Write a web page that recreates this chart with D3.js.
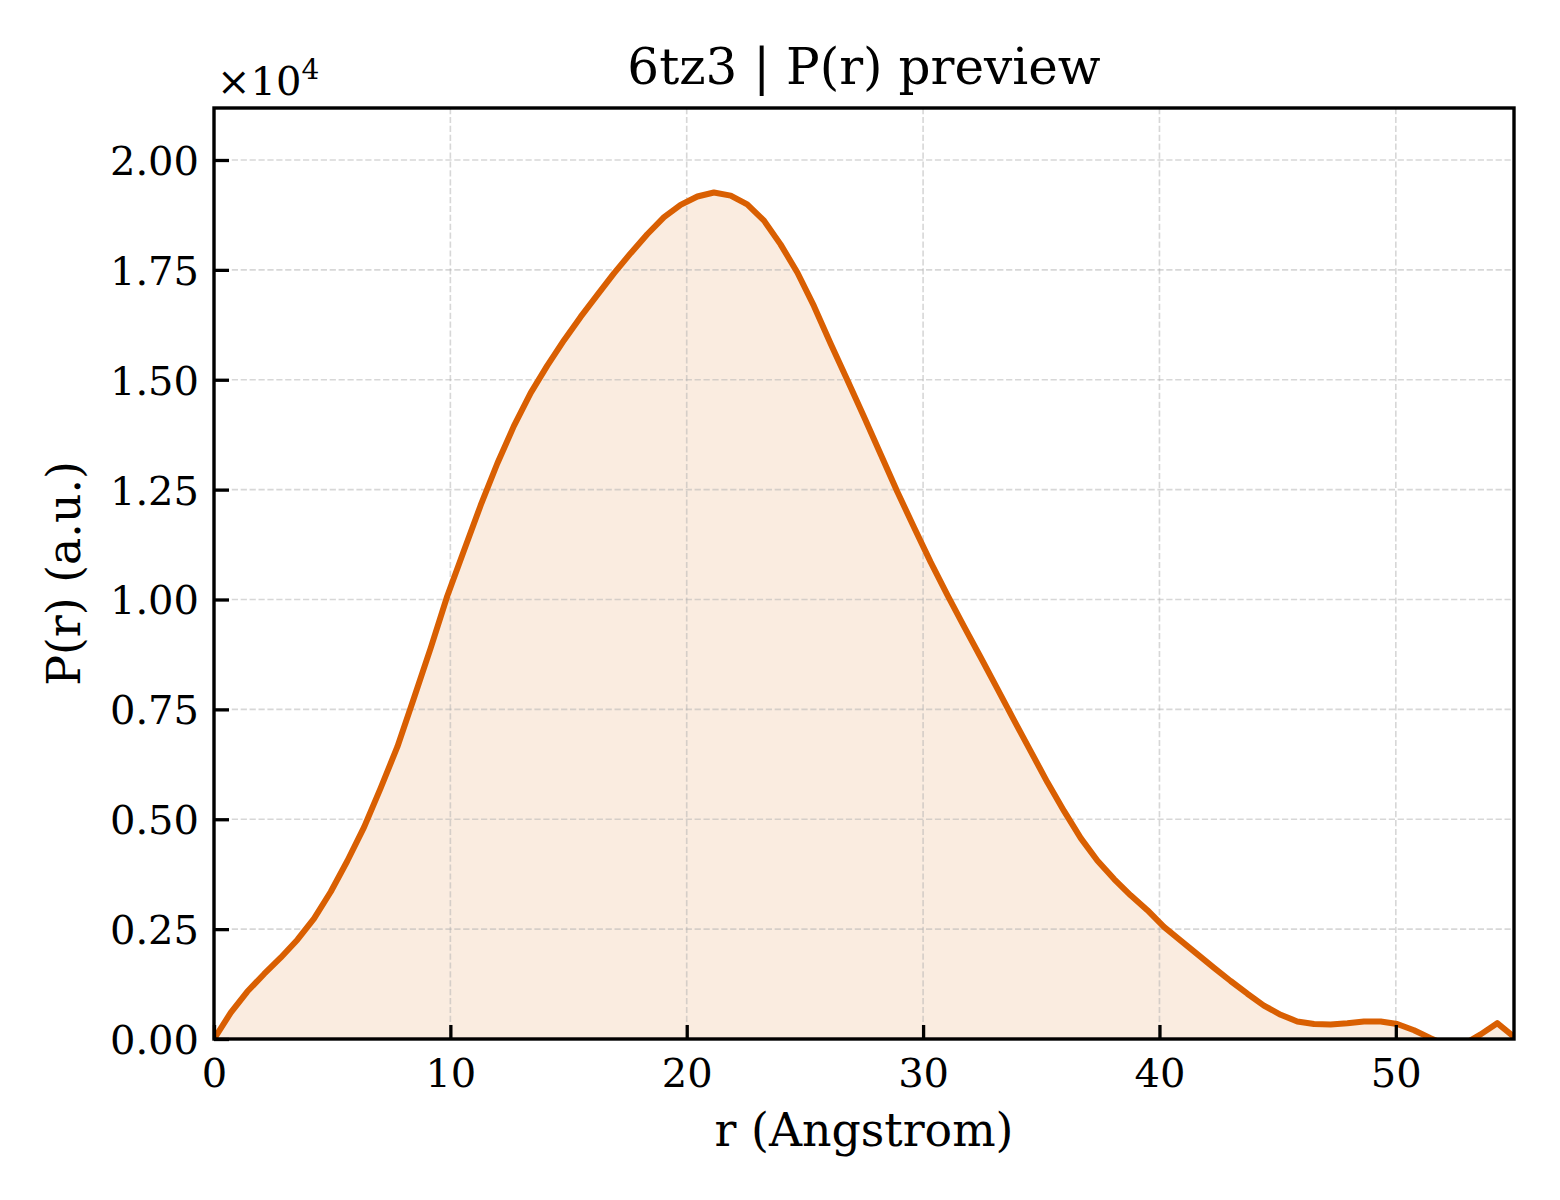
<!DOCTYPE html>
<html>
<head>
<meta charset="utf-8">
<script src="https://cdn.jsdelivr.net/npm/d3@7"></script>
<style>
  html, body { margin: 0; padding: 0; background: #ffffff; }
  svg { display: block; }
  text { font-family: "DejaVu Serif", serif; fill: #000; }
</style>
</head>
<body>
<svg id="chart" width="1560" height="1200"></svg>
<script>
// ---- data ----
const rValues = [0.00, 0.71, 1.41, 2.12, 2.82, 3.53, 4.23, 4.94, 5.64, 6.35,
  7.05, 7.76, 8.46, 9.17, 9.87, 10.58, 11.28, 11.99, 12.69, 13.40,
  14.10, 14.81, 15.51, 16.22, 16.92, 17.63, 18.33, 19.04, 19.74, 20.45,
  21.15, 21.86, 22.56, 23.27, 23.97, 24.68, 25.38, 26.09, 26.79, 27.50,
  28.21, 28.91, 29.62, 30.32, 31.03, 31.73, 32.44, 33.14, 33.85, 34.55,
  35.26, 35.96, 36.67, 37.37, 38.08, 38.78, 39.49, 40.19, 40.90, 41.60,
  42.31, 43.01, 43.72, 44.42, 45.13, 45.83, 46.54, 47.24, 47.95, 48.65,
  49.36, 50.06, 50.77, 51.47, 52.18, 52.88, 53.59, 54.29, 55.00];
const prValues = [0, 600, 1080, 1480, 1850, 2260, 2740, 3350, 4050, 4820,
  5710, 6650, 7760, 8900, 10080, 11120, 12140, 13100, 13950, 14700,
  15320, 15900, 16430, 16930, 17420, 17880, 18310, 18700, 18980, 19170,
  19260, 19190, 18990, 18620, 18080, 17440, 16680, 15820, 15000, 14160,
  13300, 12450, 11640, 10850, 10100, 9390, 8680, 7970, 7250, 6550,
  5840, 5190, 4570, 4060, 3640, 3270, 2930, 2550, 2240, 1930,
  1620, 1320, 1030, 760, 550, 400, 340, 330, 360, 400,
  400, 340, 200, 20, -150, -120, 105, 360, 50];
const xTicks = [0, 10, 20, 30, 40, 50];
const yTicks = [0, 2500, 5000, 7500, 10000, 12500, 15000, 17500, 20000];
const xDomain = [0, 55];
const yDomain = [0, 21183];
const titleText = "6tz3 | P(r) preview";
const xLabelText = "r (Angstrom)";
const yLabelText = "P(r) (a.u.)";

const points = rValues.map((r, i) => ({ r: r, p: prValues[i] }));

// ---- layout ----
const svg = d3.select("#chart");
const L = 214, R = 1514, T = 108, B = 1039;
const x = d3.scaleLinear().domain(xDomain).range([L, R]);
const y = d3.scaleLinear().domain(yDomain).range([B, T]);
const lineColor = "#d95f02";

svg.append("rect").attr("width", 1560).attr("height", 1200).attr("fill", "#fff");

svg.append("defs").append("clipPath").attr("id", "plotclip")
  .append("rect").attr("x", L).attr("y", T).attr("width", R - L).attr("height", B - T);

// fill
const area = d3.area().x(d => x(d.r)).y0(y(0)).y1(d => y(d.p));
svg.append("path").datum(points)
  .attr("clip-path", "url(#plotclip)")
  .attr("d", area)
  .attr("fill", lineColor).attr("fill-opacity", 0.12);

// grid
const grid = svg.append("g").attr("clip-path", "url(#plotclip)");
grid.selectAll("line.gx").data(xTicks).enter().append("line")
  .attr("x1", d => x(d)).attr("x2", d => x(d)).attr("y1", T).attr("y2", B)
  .attr("stroke", "#b0b0b0").attr("stroke-opacity", 0.5)
  .attr("stroke-width", 1.6).attr("stroke-dasharray", "6.2,2.7");
grid.selectAll("line.gy").data(yTicks).enter().append("line")
  .attr("x1", L).attr("x2", R).attr("y1", d => y(d)).attr("y2", d => y(d))
  .attr("stroke", "#b0b0b0").attr("stroke-opacity", 0.5)
  .attr("stroke-width", 1.6).attr("stroke-dasharray", "6.2,2.7");

// curve
const line = d3.line().x(d => x(d.r)).y(d => y(d.p));
svg.append("path").datum(points)
  .attr("clip-path", "url(#plotclip)")
  .attr("d", line)
  .attr("fill", "none").attr("stroke", lineColor)
  .attr("stroke-width", 6).attr("stroke-linejoin", "round").attr("stroke-linecap", "butt");

// axes
const xAxis = d3.axisBottom(x).tickValues(xTicks).tickSizeInner(-14).tickSizeOuter(0)
  .tickFormat(d3.format("d"));
const gx = svg.append("g").attr("transform", `translate(0,${B})`).call(xAxis);
gx.select(".domain").remove();
gx.selectAll(".tick line").attr("stroke", "#000").attr("stroke-width", 3.3);
gx.selectAll(".tick text").attr("y", 48).attr("dy", null)
  .style("font-family", "'DejaVu Serif', serif").style("font-size", "40px").attr("fill", "#000");

const yAxis = d3.axisLeft(y).tickValues(yTicks).tickSizeInner(-15).tickSizeOuter(0)
  .tickFormat(d => (d / 1e4).toFixed(2));
const gy = svg.append("g").attr("transform", `translate(${L},0)`).call(yAxis);
gy.select(".domain").remove();
gy.selectAll(".tick line").attr("stroke", "#000").attr("stroke-width", 3.3);
gy.selectAll(".tick text").attr("x", -15).attr("dy", "0.36em")
  .style("font-family", "'DejaVu Serif', serif").style("font-size", "40px").attr("fill", "#000");

// spines
svg.append("rect").attr("x", L).attr("y", T).attr("width", R - L).attr("height", B - T)
  .attr("fill", "none").attr("stroke", "#000").attr("stroke-width", 3.4);

// offset text
const off = svg.append("text").attr("x", 217).attr("y", 95).style("font-size", "40px");
off.append("tspan").text("×10");
off.append("tspan").attr("dy", -16).style("font-size", "28px").text("4");

// title & labels
svg.append("text").attr("x", (L + R) / 2).attr("y", 84).attr("text-anchor", "middle")
  .style("font-size", "50px").text(titleText);
svg.append("text").attr("x", (L + R) / 2).attr("y", 1146).attr("text-anchor", "middle")
  .style("font-size", "45.8px").text(xLabelText);
svg.append("text").attr("transform", `translate(80,${(T + B) / 2}) rotate(-90)`)
  .attr("text-anchor", "middle").style("font-size", "45.8px").text(yLabelText);
</script>
</body>
</html>
